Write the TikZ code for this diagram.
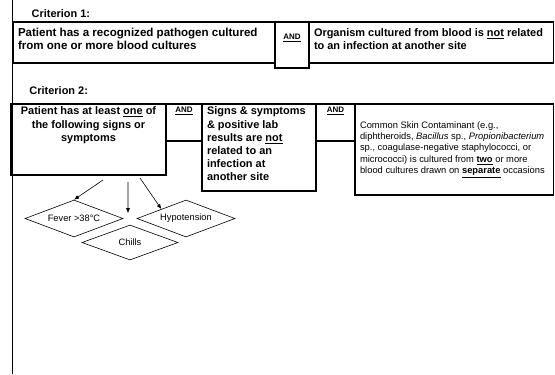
\documentclass[tikz,border=0pt]{standalone}
\usepackage{fontspec}
\setmainfont{Liberation Sans}
\usetikzlibrary{shapes.geometric, arrows.meta, calc}

\tikzset{
  critbox/.style={draw, line width=1.3bp, anchor=north west, outer sep=0pt, inner xsep=5bp, inner ysep=6.5bp, font=\bfseries\fontsize{11}{13.2}\selectfont},
  andbox/.style={critbox, inner xsep=0pt, font=\bfseries\fontsize{8}{9}\selectfont},
  critlabel/.style={anchor=base west, inner sep=0pt, font=\bfseries\fontsize{11}{13}\selectfont},
  signbox/.style={draw, diamond, aspect=2.6, line width=0.6bp, inner sep=0pt, minimum width=98bp, minimum height=37bp, font=\fontsize{9.3}{11}\selectfont},
  toarrow/.style={-{Latex[length=5bp, width=4bp]}, line width=0.6bp},
}

\begin{document}
\begin{tikzpicture}[x=1bp, y=-1bp]
  \useasboundingbox (0,0) rectangle (555,374);

  % margin rule
  \draw[line width=0.8bp] (12,0) -- (12,374);

  % criterion 1
  \node[critlabel] (crit one) at (31.5,17.3) {Criterion 1:};
  \node[critbox, inner ysep=6bp, font=\bfseries\fontsize{11.6}{13}\selectfont] (pathogen) at (13,22) {\parbox[t][29bp][t]{252bp}{\raggedright Patient has a recognized pathogen cultured\\ from one or more blood cultures}};
  \node[andbox, inner ysep=12bp] (and one) at (275,22) {\parbox[t][22bp][t]{34bp}{\centering\underline{AND}}};
  \node[critbox] (not related) at (309,22) {\parbox[t][28bp][t]{234.5bp}{\raggedright Organism cultured from blood is \underline{not} related\\ to an infection at another site}};

  % criterion 2
  \node[critlabel] (crit two) at (29.3,94) {Criterion 2:};
  \node[critbox, inner ysep=3bp] (signs) at (11,104) {\parbox[t][65bp][t]{145bp}{\centering Patient has at least \underline{one} of\\ the following signs or\\ symptoms}};
  \node[andbox, inner ysep=3bp] (and two) at (166,104) {\parbox[t][31bp][t]{36bp}{\centering\underline{AND}}};
  \node[critbox, inner ysep=3bp] (lab results) at (202,104) {\parbox[t][81bp][t]{104bp}{\raggedright Signs \& symptoms\\ \& positive lab\\ results are \underline{not}\\ related to an\\ infection at\\ another site}};
  \node[andbox, inner ysep=3bp] (and three) at (316,104) {\parbox[t][31bp][t]{39bp}{\centering\underline{AND}}};
  \node[critbox, inner ysep=0pt, font=\fontsize{9.4}{11.5}\selectfont] (contaminant) at (355,104) {\parbox[t][91bp][c]{188.5bp}{\raggedright Common Skin Contaminant (e.g.,\\ diphtheroids, \textit{Bacillus} sp., \textit{Propionibacterium}\\ sp., coagulase-negative staphylococci, or\\ micrococci) is cultured from \textbf{\underline{two}} or more\\ blood cultures drawn on \textbf{\underline{separate}} occasions}};

  % signs
  \node[signbox] (fever) at (74,218.5) {Fever >38°C};
  \node[signbox] (hypotension) at (186,218.5) {Hypotension};
  \node[signbox, minimum width=96bp, minimum height=35bp] (chills) at (130,242.5) {Chills};

  \draw[toarrow] ($(signs.south)+(14.5,5)$) -- (fever.north);
  \draw[toarrow] ($(signs.south)+(39.5,7)$) -- ($(chills.north)+(-2,-11.5)$);
  \draw[toarrow] ($(signs.south)+(51.5,3)$) -- (hypotension.north west);
\end{tikzpicture}
\end{document}
